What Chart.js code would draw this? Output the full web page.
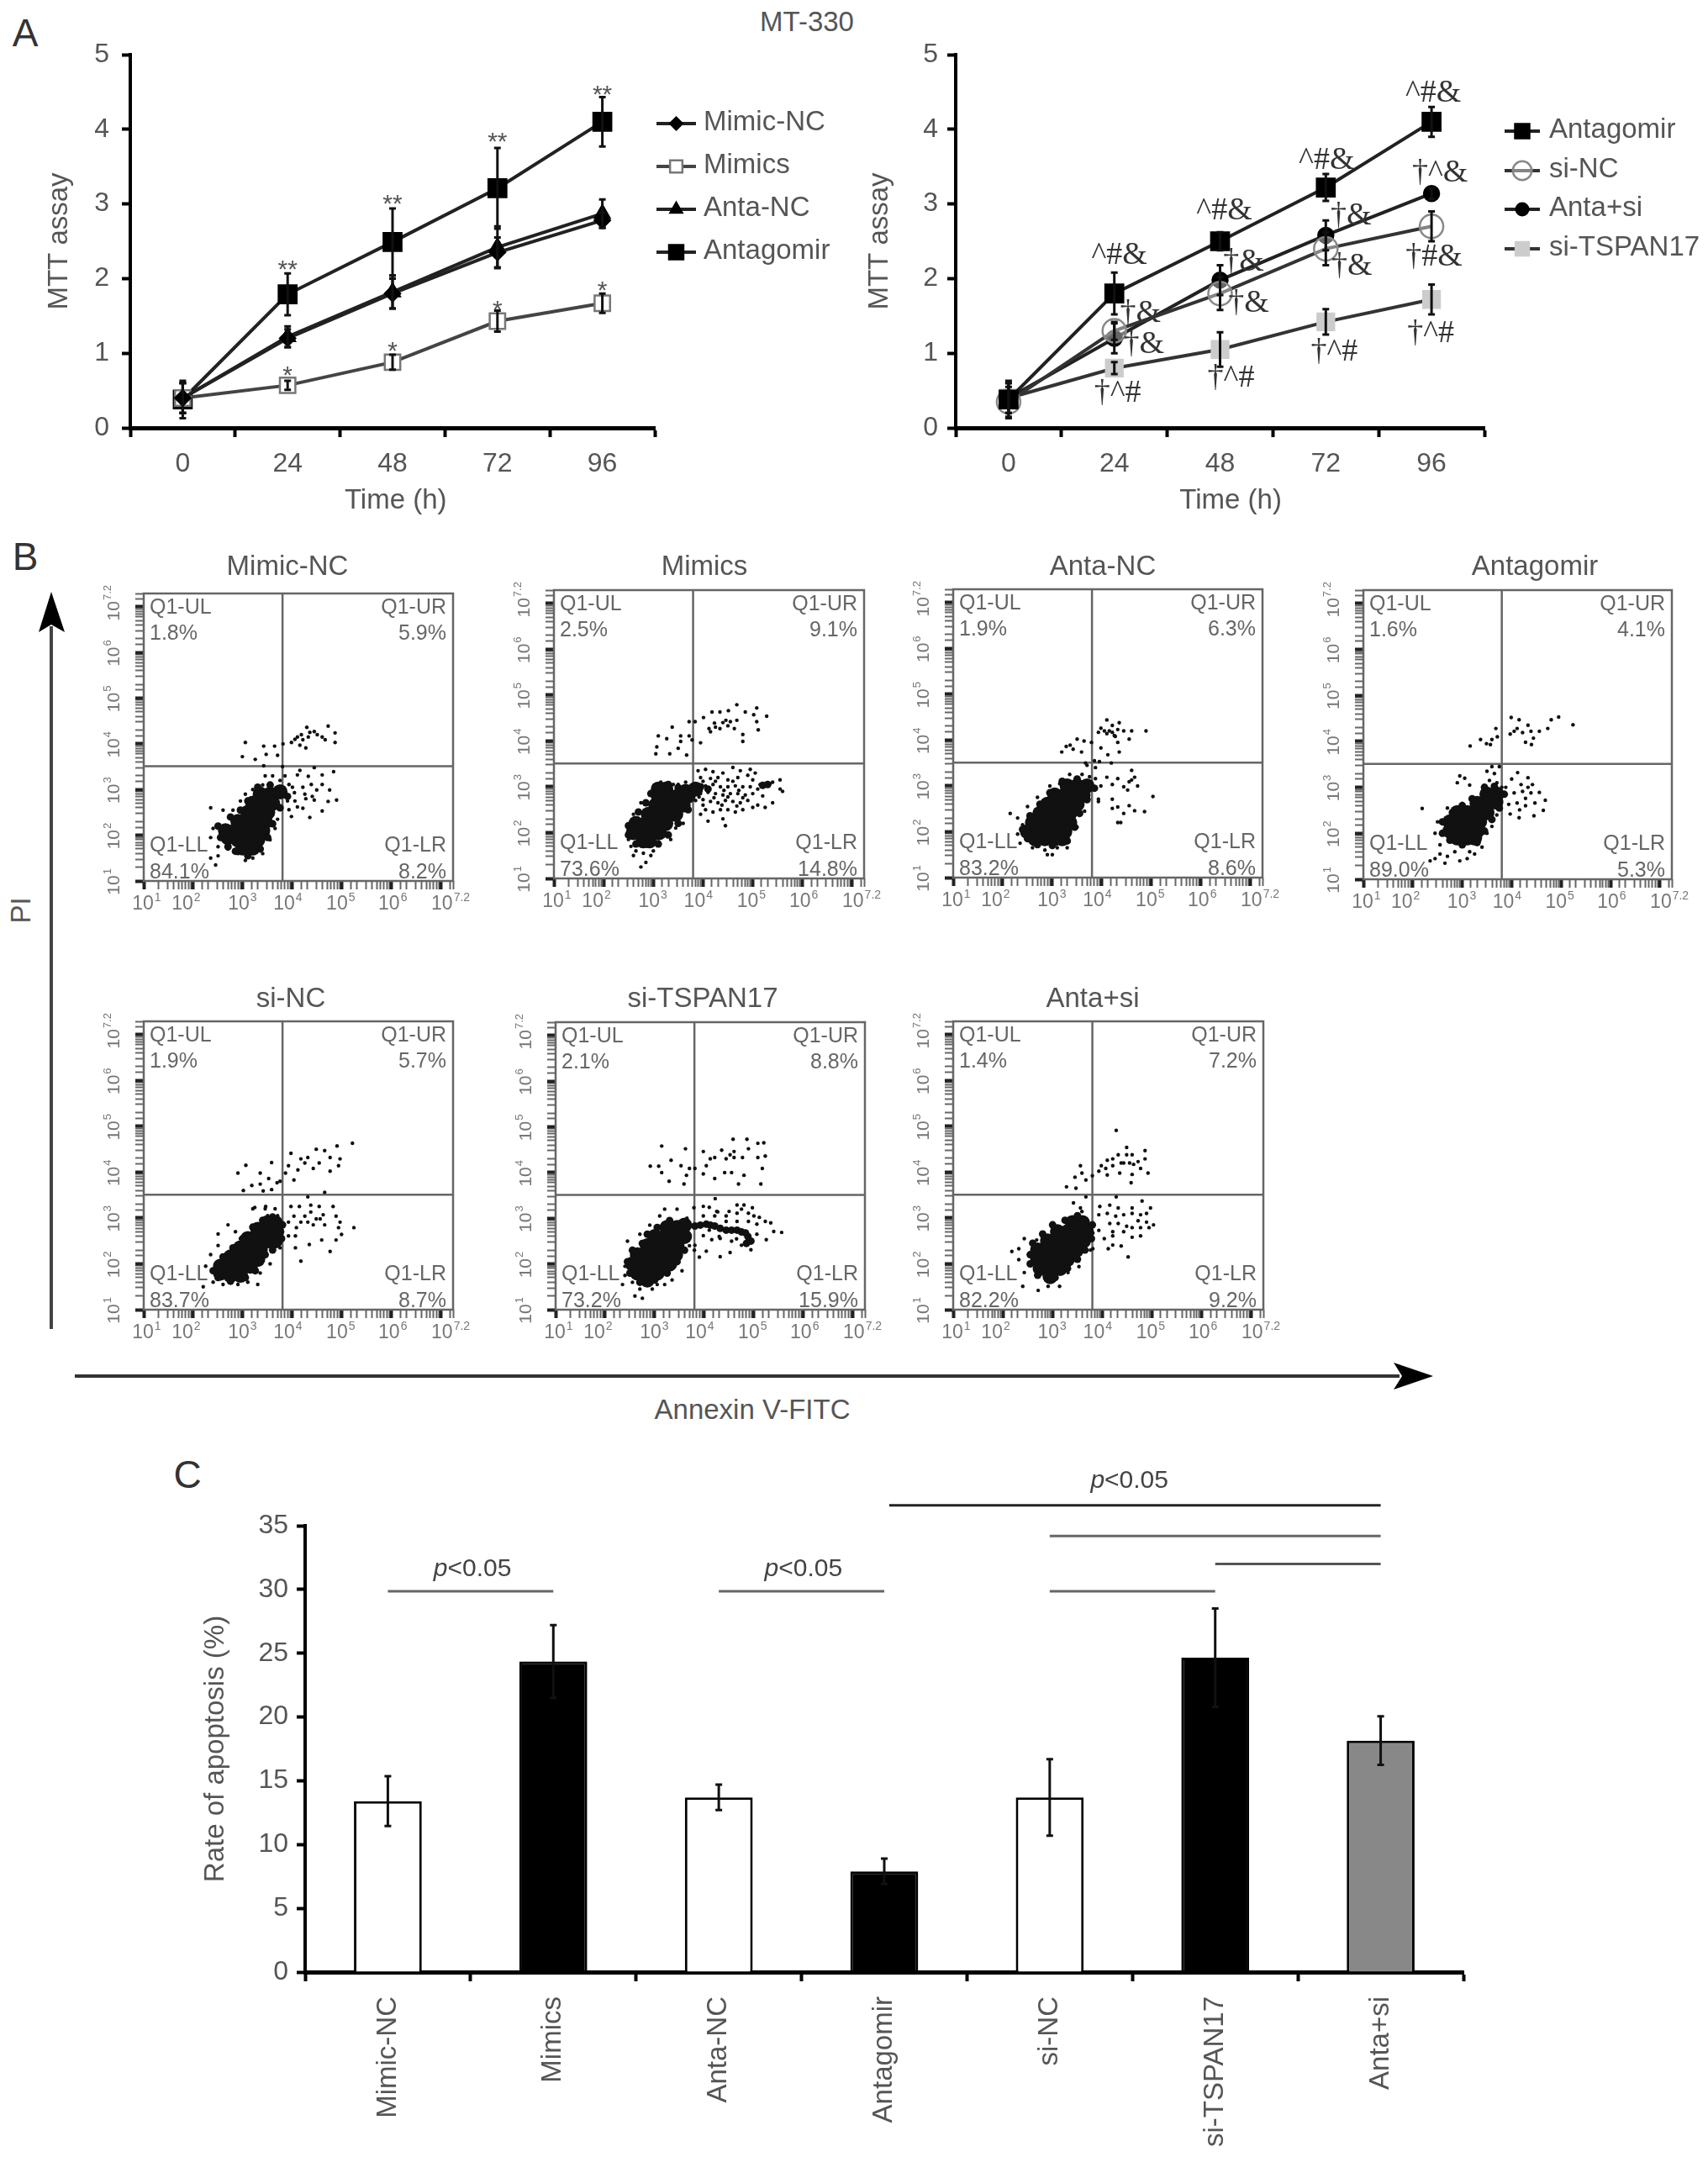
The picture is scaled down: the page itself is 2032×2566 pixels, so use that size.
<!DOCTYPE html>
<html>
<head>
<meta charset="utf-8">
<title>MT-330</title>
<script src="https://cdn.jsdelivr.net/npm/chart.js@4/dist/chart.umd.js"></script>
<style>
	html, body { margin: 0; background: #fff; }
	#page { position: relative; width: 2032px; height: 2566px; overflow: hidden; font-family: "Liberation Sans", sans-serif; }
	canvas { position: absolute; }
	svg { position: absolute; left: 0; top: 0; }
	.label { position: absolute; transform: translate(-50%, -50%); white-space: nowrap; color: #555; font-size: 33px; }
	.letter { color: #333; font-size: 46px; }
</style>
</head>
<body>
<div id="page">
	<svg width="2032" height="2566">
		<line x1="61" y1="1581" x2="61" y2="745" stroke="#444" stroke-width="4"/>
		<polygon points="61,704 46,752 61,743 77,752" fill="#000"/>
		<line x1="89" y1="1637" x2="1665" y2="1637" stroke="#333" stroke-width="4"/>
		<polygon points="1705,1637 1658,1621 1668,1637 1658,1653" fill="#000"/>
	</svg>
	<div class="label letter" style="left:30px;top:39px">A</div>
	<div class="label" style="left:960px;top:26px">MT-330</div>
	<div class="label letter" style="left:30px;top:662px">B</div>
	<div class="label" style="left:25px;top:1083px;transform:translate(-50%,-50%) rotate(-90deg)">PI</div>
	<div class="label" style="left:895px;top:1677px">Annexin V-FITC</div>
	<div class="label letter" style="left:223px;top:1754px">C</div>
</div>
<script>
// panel A
const hours = ["0", "24", "48", "72", "96"];

const mimicNcMtt = [0.4, 1.2, 1.8, 2.35, 2.78];
const mimicNcMttErr = [0.2, 0.12, 0.2, 0.2, 0.1];
const mimicsMtt = [0.4, 0.57, 0.88, 1.43, 1.67];
const mimicsMttErr = [0.2, 0.06, 0.1, 0.14, 0.13];
const antaNcMtt = [0.4, 1.22, 1.82, 2.42, 2.87];
const antaNcMttErr = [0.2, 0.14, 0.22, 0.28, 0.19];
const antagomirMtt = [0.38, 1.79, 2.49, 3.21, 4.1];
const antagomirMttErr = [0.25, 0.28, 0.45, 0.54, 0.33];

const antagomirMtt2 = [0.38, 1.8, 2.5, 3.22, 4.1];
const antagomirMtt2Err = [0.25, 0.28, 0.12, 0.18, 0.2];
const siNcMtt = [0.35, 1.3, 1.8, 2.4, 2.7];
const siNcMttErr = [0.2, 0.12, 0.22, 0.22, 0.2];
const antaSiMtt = [0.4, 1.2, 1.98, 2.58, 3.14];
const antaSiMttErr = [0.2, 0.2, 0.2, 0.2, 0.07];
const siTspanMtt = [0.4, 0.8, 1.05, 1.42, 1.72];
const siTspanMttErr = [0.2, 0.08, 0.23, 0.17, 0.2];

// text, category, value, x nudge
const starMarks = [
	["**", 1, 2.19, 0], ["**", 2, 3.07, 0], ["**", 3, 3.9, 0], ["**", 4, 4.53, 0],
	["*", 1, 0.77, 0], ["*", 2, 1.1, 0], ["*", 3, 1.65, 0], ["*", 4, 1.91, 0]
];
const symbolMarks = [
	["^#&", 1, 2.31, 6], ["^#&", 2, 2.91, 5], ["^#&", 3, 3.58, 1], ["^#&", 4, 4.48, 2],
	["†^&", 4, 3.41, 10], ["†#&", 4, 2.29, 3],
	["†&", 1, 1.53, 31], ["†&", 2, 2.22, 28], ["†&", 3, 2.84, 30],
	["†&", 1, 1.12, 35], ["†&", 2, 1.67, 34], ["†&", 3, 2.16, 31],
	["†^#", 1, 0.46, 4], ["†^#", 2, 0.66, 13], ["†^#", 3, 1.01, 10], ["†^#", 4, 1.26, -1]
];

// panel B, all points as log10 of the axis value
const gateX = 3.8;
const gateY = 3.51;
const decadeLabels = ["1", "2", "3", "4", "5", "6", "7.2"];
const quadrantNames = ["Q1-UL", "Q1-UR", "Q1-LL", "Q1-LR"];

const mimicNcDense = [[3.35,2.9],[3.55,2.9],[3.75,2.95],[3.2,2.7],[3.4,2.7],[3.6,2.7],[3.1,2.5],[3.3,2.5],[3.5,2.5],[2.9,2.3],[3.1,2.3],[3.3,2.3],[3.45,2.3],[2.65,2.1],[2.85,2.1],[3.05,2.1],[3.25,2.1],[3.4,2.1],[2.7,1.95],[2.9,1.9],[3.1,1.9],[3.3,1.9],[3.0,1.72],[3.2,1.72]];
const mimicNcMid = [[2.5,2.2],[2.55,1.95],[2.7,1.75],[2.85,1.65],[3.1,1.55],[3.35,1.7],[3.5,1.95],[3.6,2.25],[3.75,2.6],[3.9,2.85],[2.75,2.4],[2.95,2.55],[3.1,2.75],[3.3,3.05],[3.55,3.1]];
const mimicNcSparse = [[3.05,4.03],[2.99,3.72],[3.25,3.66],[3.42,3.95],[3.47,3.77],[3.64,3.95],[3.7,3.75],[3.81,4.0],[3.98,4.03],[4.1,4.15],[4.21,4.09],[4.32,4.15],[4.29,4.36],[4.44,4.27],[4.6,4.15],[4.72,4.39],[4.86,4.24],[4.66,4.09],[4.27,3.91],[4.15,3.97],[3.42,3.52],[4.86,4.03],[4.05,4.1],[4.18,4.2],[4.5,4.2],[4.35,4.25],
	[4.1,3.32],[4.15,3.42],[4.44,3.48],[4.83,3.39],[4.6,3.32],[4.32,3.29],[3.93,3.11],[4.04,2.93],[4.21,3.05],[4.38,3.11],[4.49,2.99],[4.27,2.8],[4.44,2.77],[4.1,2.62],[4.21,2.59],[3.93,2.56],[3.98,2.41],[4.35,2.39],[4.6,2.53],[4.72,2.74],[4.89,2.77],[4.75,2.99],[4.6,3.11],[4.0,3.05],[4.25,2.9],[4.4,2.85],[4.05,2.75],[3.9,2.75],
	[2.35,2.6],[2.4,2.15],[2.35,1.95],[2.5,1.75],[2.7,1.7],[2.9,1.6],[3.05,1.45],[3.2,1.5],[3.4,1.6],[3.55,1.9],[2.5,1.55],[2.35,1.5],[2.45,1.35],[2.8,2.55],[2.6,2.55],[2.95,2.75],[3.05,2.9],[3.2,3.0],[3.4,3.1],[3.6,3.3],[3.45,3.3],[3.75,3.2],[3.85,3.3],[3.8,3.5],[3.7,2.35],[3.65,2.15],[3.5,2.0]];

const mimicsDense = [[3.1,2.95],[3.25,2.95],[3.65,2.9],[3.85,2.95],[3.1,2.8],[3.3,2.8],[3.5,2.8],[3.7,2.8],[3.05,2.6],[3.25,2.6],[3.45,2.6],[3.6,2.6],[2.9,2.4],[3.1,2.4],[3.3,2.4],[3.45,2.4],[2.65,2.2],[2.85,2.2],[3.05,2.2],[3.25,2.2],[2.6,2.0],[2.8,2.0],[3.0,2.0],[3.12,2.0],[2.8,1.82],[2.92,1.82]];
const mimicsMid = [[3.95,3.0],[4.1,2.95],[5.2,3.03],[5.3,3.05],[2.5,2.15],[2.5,1.95],[2.65,1.75],[3.1,1.75],[3.3,1.95],[3.5,2.2],[3.7,2.5],[2.7,2.45],[2.85,2.65],[2.95,2.85],[3.3,3.05],[3.5,2.98]];
const mimicsSparse = [[3.1,4.11],[3.07,3.87],[3.05,3.72],[3.27,4.05],[3.38,4.3],[3.55,4.11],[3.5,3.84],[3.33,3.72],[3.67,3.69],[3.72,4.42],[3.78,4.02],[3.95,3.96],[4.01,4.51],[4.12,4.27],[4.23,4.39],[4.34,4.27],[4.46,4.45],[4.68,4.79],[4.68,4.45],[4.51,4.66],[4.34,4.63],[4.85,4.63],[5.02,4.57],[5.08,4.72],[5.28,4.54],[5.08,4.42],[5.11,4.24],[4.8,3.99],[4.8,4.14],[4.63,4.27],[4.18,4.63],[3.84,4.42],[3.72,4.11],[3.55,3.99],[4.4,4.4],[4.55,4.42],[4.25,4.3],[4.15,4.2],[4.5,4.33],
	[3.9,3.35],[4.05,3.38],[4.2,3.33],[4.4,3.3],[4.6,3.42],[4.75,3.35],[4.95,3.38],[5.05,3.3],[3.95,3.2],[4.15,3.18],[4.3,3.2],[4.5,3.15],[4.7,3.2],[4.9,3.25],[5.0,3.15],[5.15,3.05],[5.35,3.07],[5.4,3.1],[5.55,3.15],[5.6,2.9],[5.55,2.95],
	[3.9,3.05],[4.05,3.02],[4.2,3.05],[4.35,3.0],[4.5,3.0],[4.65,3.02],[4.8,3.0],[4.95,3.0],[5.1,2.95],[3.95,2.85],[4.1,2.88],[4.25,2.85],[4.4,2.82],[4.55,2.85],[4.7,2.85],[4.85,2.82],[5.0,2.85],[5.2,2.8],[3.85,2.7],[4.0,2.72],[4.15,2.68],[4.3,2.65],[4.45,2.7],[4.6,2.68],[4.75,2.65],[4.9,2.7],[5.1,2.6],[5.4,2.65],[5.25,2.55],[4.05,2.5],[4.2,2.45],[4.35,2.5],[4.5,2.5],[4.65,2.45],[4.8,2.5],[5.0,2.55],[3.95,2.4],[4.1,2.25],[4.4,2.3],[4.45,2.15],
	[4.0,3.12],[4.25,3.12],[4.6,3.12],[4.12,2.95],[4.42,2.92],[4.72,2.92],[3.92,2.78],[4.22,2.76],[4.5,2.78],[4.8,2.76],[4.0,2.6],[4.38,2.6],[4.68,2.58],
	[2.5,1.85],[2.55,1.7],[2.6,1.5],[2.65,1.6],[2.8,1.55],[2.95,1.5],[3.0,1.6],[2.85,1.35],[2.75,1.25],[3.1,1.8],[3.35,1.85],[3.45,2.1],[3.6,2.2],[2.6,2.4],[2.75,2.65],[2.95,2.85],[3.15,3.1],[3.4,3.05],[3.5,3.05],[3.65,3.1]];

const antaNcDense = [[3.3,3.0],[3.5,3.0],[3.7,3.0],[3.05,2.8],[3.25,2.8],[3.45,2.8],[3.62,2.8],[2.9,2.6],[3.1,2.6],[3.3,2.6],[3.5,2.6],[2.75,2.4],[2.95,2.4],[3.15,2.4],[3.35,2.4],[2.6,2.2],[2.8,2.2],[3.0,2.2],[3.2,2.2],[3.35,2.2],[2.5,2.0],[2.7,2.0],[2.9,2.0],[3.1,2.0],[3.25,2.0],[2.65,1.85],[2.85,1.85],[3.05,1.85],[3.2,1.85]];
const antaNcMid = [[2.4,2.05],[2.5,1.85],[2.7,1.72],[3.0,1.7],[3.3,1.8],[3.45,2.1],[3.55,2.4],[3.7,2.7],[3.85,2.95],[2.55,2.35],[2.75,2.6],[2.95,2.85],[3.2,3.1],[3.5,3.15]];
const antaNcSparse = [[3.19,3.74],[3.36,3.89],[3.5,4.02],[3.64,3.98],[3.79,3.95],[3.59,3.74],[3.93,4.17],[3.98,4.26],[4.1,4.44],[4.21,4.32],[4.35,4.38],[4.44,4.2],[4.6,4.2],[4.89,4.2],[4.1,4.14],[4.27,4.08],[4.32,3.95],[4.12,3.68],[4.35,3.74],[4.55,4.02],[4.21,4.17],[4.32,4.23],[3.98,3.83],[3.42,3.8],[3.28,3.86],[4.15,4.2],[4.25,4.1],[4.05,4.2],
	[3.67,3.5],[3.87,3.4],[3.95,3.53],[4.19,3.5],[3.87,3.16],[4.1,3.19],[4.32,3.16],[4.6,3.34],[4.66,3.19],[4.55,3.09],[4.72,3.0],[4.44,2.98],[4.21,3.03],[3.98,3.0],[5.03,2.77],[3.93,2.66],[4.21,2.71],[4.32,2.54],[4.55,2.57],[4.21,2.51],[4.44,2.4],[4.66,2.46],[4.86,2.44],[4.32,2.2],[3.93,2.71],[4.6,3.13],[4.52,2.91],[4.38,2.2],
	[2.15,2.4],[2.3,2.3],[2.4,2.15],[2.3,1.95],[2.35,1.75],[2.6,1.65],[2.85,1.6],[3.1,1.65],[2.9,1.5],[3.0,1.5],[3.3,1.65],[3.5,2.1],[3.65,2.45],[2.5,2.55],[2.7,2.75],[2.95,3.0],[3.15,3.05],[3.35,3.25],[3.6,3.25],[3.7,3.45],[3.75,3.2],[3.85,3.55]];

const antagomirDense = [[3.5,2.85],[3.7,2.85],[3.3,2.65],[3.5,2.65],[3.68,2.68],[2.9,2.45],[3.1,2.45],[3.3,2.45],[3.5,2.45],[2.75,2.25],[2.95,2.25],[3.15,2.25],[3.35,2.25],[2.75,2.05],[2.95,2.05],[3.15,2.05],[3.3,2.05],[2.9,1.9],[3.1,1.9],[3.25,1.9]];
const antagomirMid = [[2.6,2.0],[2.6,2.25],[2.75,1.85],[3.0,1.75],[3.3,1.8],[3.45,2.05],[3.6,2.3],[3.75,2.55],[3.85,2.85],[2.8,2.45],[3.0,2.6],[3.2,2.75],[3.45,3.0],[3.65,3.02]];
const antagomirSparse = [[3.16,3.9],[3.37,4.04],[3.49,3.95],[3.6,4.04],[3.71,4.1],[3.68,4.28],[3.97,4.16],[3.99,4.52],[4.15,4.47],[4.11,4.28],[4.22,4.19],[4.33,4.35],[4.39,4.22],[4.56,4.22],[4.73,4.28],[4.8,4.47],[4.95,4.53],[5.24,4.36],[4.28,3.98],[4.4,3.93],[4.44,4.07],[4.05,4.22],[3.57,3.93],
	[3.88,3.0],[4.0,3.18],[4.12,3.32],[4.33,3.21],[4.19,3.06],[4.33,3.0],[4.42,3.06],[3.88,2.85],[4.05,2.88],[4.22,2.91],[4.39,2.88],[4.56,2.89],[3.94,2.63],[4.11,2.66],[4.28,2.76],[4.47,2.66],[4.68,2.72],[3.97,2.42],[4.15,2.34],[4.16,2.51],[4.45,2.38],[4.64,2.5],[4.28,2.6],
	[2.45,2.0],[2.5,2.25],[2.55,1.75],[2.7,2.55],[2.85,2.55],[3.0,2.65],[3.15,1.6],[3.4,1.7],[3.5,2.0],[3.6,2.15],[3.7,2.4],[2.55,1.55],[2.7,1.5],[2.85,1.6],[2.95,1.4],[2.65,1.35],[2.45,1.45],[2.35,1.4],[3.1,1.45],[3.25,1.55],[2.19,2.54],[2.9,3.1],[3.05,3.2],[3.15,3.05],[2.95,3.25],[3.5,3.35],[3.6,3.45],[3.65,3.3],[3.75,3.45],[3.55,3.15],[3.7,3.1],[3.8,3.0]];

const siNcDense = [[3.5,2.9],[3.65,2.9],[3.3,2.75],[3.5,2.75],[3.68,2.7],[3.1,2.55],[3.3,2.55],[3.5,2.5],[3.65,2.5],[2.95,2.35],[3.15,2.35],[3.35,2.3],[2.75,2.15],[2.95,2.15],[3.15,2.1],[3.3,2.1],[2.55,1.95],[2.75,1.95],[2.95,1.95],[3.15,1.95],[2.55,1.8],[2.75,1.75],[2.95,1.75]];
const siNcMid = [[2.4,1.85],[2.5,1.7],[2.75,1.62],[3.05,1.7],[3.25,1.85],[3.45,2.2],[3.6,2.3],[3.78,2.55],[3.8,2.85],[2.6,2.15],[2.8,2.35],[3.0,2.55],[3.2,2.8],[3.4,2.95],[3.6,3.02]];
const siNcSparse = [[2.9,3.98],[3.06,4.15],[3.35,3.98],[3.58,4.21],[3.52,3.86],[3.35,3.74],[3.18,3.71],[3.01,3.6],[3.41,3.59],[3.58,3.62],[3.75,3.8],[3.86,3.98],[3.97,4.41],[4.03,3.83],[4.11,4.05],[4.17,4.29],[4.31,4.32],[4.42,4.08],[4.48,4.5],[4.54,4.2],[4.65,4.47],[4.76,4.32],[4.9,4.57],[4.96,4.29],[5.21,4.63],[4.93,4.14],[4.76,4.02],[4.25,4.2],[3.92,4.14],[3.69,3.77],
	[4.31,3.46],[4.65,3.56],[3.24,3.23],[3.46,3.25],[3.97,3.25],[4.14,3.25],[4.37,3.28],[4.54,3.25],[4.82,3.25],[4.03,3.04],[4.17,2.91],[4.31,2.91],[4.48,2.98],[4.62,3.07],[4.88,3.04],[4.96,2.91],[3.92,2.91],[4.08,2.79],[4.42,2.85],[4.65,2.85],[4.93,2.79],[5.24,2.79],[4.06,2.61],[3.92,2.61],[4.59,2.52],[4.88,2.52],[4.06,2.35],[4.34,2.42],[4.76,2.27],[4.17,2.06],[4.99,2.64],[4.25,3.04],[4.37,3.13],[4.56,2.98],
	[2.25,1.95],[2.35,2.2],[2.5,2.4],[2.5,2.65],[2.7,2.85],[2.85,2.7],[2.95,2.55],[2.4,1.6],[2.6,1.55],[2.9,1.55],[3.1,1.6],[3.3,1.55],[3.35,1.8],[3.55,2.0],[2.2,1.5],[3.2,3.2],[3.45,3.2],[3.65,3.2],[3.7,3.05],[3.5,3.05],[3.75,2.35],[3.8,2.7]];

const siTspanDense = [[3.25,2.8],[3.45,2.8],[3.6,2.85],[3.0,2.6],[3.2,2.6],[3.4,2.6],[3.6,2.6],[2.85,2.4],[3.05,2.4],[3.25,2.4],[3.45,2.4],[2.65,2.2],[2.85,2.2],[3.05,2.2],[3.25,2.2],[3.42,2.2],[2.55,2.0],[2.75,2.0],[2.95,2.0],[3.15,2.0],[3.3,2.0],[2.65,1.8],[2.85,1.8],[3.05,1.8],[2.85,1.65]];
const siTspanMid = [[3.81,2.83],[3.92,2.85],[4.04,2.87],[4.12,2.85],[4.21,2.83],[4.32,2.78],[4.44,2.74],[4.55,2.74],[4.66,2.74],[4.75,2.7],[4.83,2.68],[4.88,2.6],[4.85,2.45],[4.94,2.5],[2.45,2.05],[2.5,1.8],[2.7,1.6],[3.0,1.65],[3.25,1.8],[3.45,2.05],[3.6,2.3],[2.55,2.3],[2.75,2.45],[2.85,2.65],[3.05,2.8],[3.3,2.95]];
const siTspanSparse = [[2.91,4.14],[3.08,4.14],[3.14,4.58],[3.14,4.0],[3.29,3.81],[3.33,4.27],[3.59,3.75],[3.62,4.52],[3.53,4.15],[3.64,3.94],[3.7,4.09],[3.81,4.09],[3.98,4.46],[3.98,3.97],[4.04,4.15],[4.21,3.87],[4.12,4.3],[4.21,4.33],[4.35,4.49],[4.41,4.0],[4.55,4.0],[4.58,4.73],[4.6,4.46],[4.6,4.33],[4.69,3.75],[4.8,3.94],[4.86,4.73],[4.89,4.52],[4.77,4.33],[5.08,4.64],[5.2,4.65],[5.08,4.33],[5.23,4.36],[5.17,4.09],[5.14,3.75],[4.52,4.39],[4.44,4.3],
	[4.22,3.43],[3.98,3.26],[4.1,3.24],[3.79,3.23],[4.27,3.14],[4.66,3.29],[4.8,3.29],[4.97,3.23],[3.98,3.05],[4.21,3.05],[4.44,3.05],[4.66,3.11],[4.89,3.11],[5.11,3.02],[5.23,2.93],[5.34,2.9],[5.56,2.69],[5.4,2.71],[5.25,2.53],[3.98,2.62],[4.15,2.53],[4.32,2.56],[4.55,2.5],[4.75,2.41],[4.94,2.31],[4.32,2.16],[4.52,2.25],[4.04,2.28],[3.81,2.41],[5.06,2.87],[4.66,2.93],[4.44,2.93],[4.89,2.93],[5.06,2.65],[4.1,2.74],[4.25,3.15],[4.5,3.15],[4.75,3.2],[5.0,3.05],[4.3,2.6],[4.65,2.55],
	[2.45,2.5],[2.55,2.2],[2.4,1.95],[2.4,1.75],[2.55,1.6],[2.7,1.45],[2.6,1.3],[2.75,1.25],[2.95,1.45],[3.05,1.55],[3.2,1.55],[3.35,1.65],[2.35,1.55],[2.7,2.65],[2.9,2.85],[3.1,3.05],[3.2,3.2],[3.45,3.2],[3.55,1.85],[3.7,2.4],[3.8,2.3],[3.9,2.15],[3.65,3.0]];

const antaSiDense = [[3.4,2.9],[3.6,2.9],[3.1,2.7],[3.3,2.7],[3.5,2.7],[3.68,2.7],[2.9,2.5],[3.1,2.5],[3.3,2.5],[3.5,2.5],[3.62,2.5],[2.7,2.3],[2.9,2.3],[3.1,2.3],[3.3,2.3],[3.48,2.3],[2.7,2.1],[2.9,2.1],[3.1,2.1],[3.3,2.1],[2.75,1.9],[2.95,1.9],[3.15,1.9],[2.95,1.72]];
const antaSiMid = [[2.55,2.2],[2.55,2.0],[2.7,1.75],[3.05,1.7],[3.3,1.9],[3.5,2.1],[3.65,2.3],[3.78,2.55],[3.8,2.85],[2.6,2.45],[2.8,2.65],[3.0,2.85],[3.25,2.95],[3.5,3.05]];
const antaSiSparse = [[3.28,3.68],[3.47,3.65],[3.56,4.14],[3.45,3.89],[3.59,3.98],[3.67,3.83],[3.8,3.92],[3.67,3.46],[3.42,3.33],[3.56,3.22],
	[4.28,4.91],[4.49,4.54],[4.86,4.47],[4.86,4.29],[4.92,3.98],[4.58,3.77],[3.93,4.02],[3.98,4.14],[4.1,4.26],[4.21,4.29],[4.32,4.38],[4.43,4.2],[4.55,4.2],[4.63,4.17],[4.6,4.38],[4.72,4.23],[4.77,4.08],[4.35,3.98],[4.1,3.94],[4.6,3.95],[4.21,4.14],[4.38,4.2],[4.07,4.08],[4.49,4.38],
	[4.28,3.46],[3.95,3.25],[4.15,3.28],[4.32,3.22],[4.6,3.22],[4.8,3.37],[4.97,3.22],[3.93,3.07],[4.1,3.1],[4.27,3.04],[4.43,3.07],[4.6,3.1],[4.77,3.07],[4.89,2.91],[5.03,2.85],[4.94,2.79],[4.15,2.88],[4.32,2.88],[4.49,2.82],[4.6,2.79],[4.77,2.79],[3.93,2.73],[4.21,2.7],[4.43,2.7],[4.6,2.58],[4.77,2.61],[4.04,2.55],[4.21,2.61],[4.12,2.33],[4.21,2.41],[4.38,2.39],[4.52,2.15],[3.81,2.33],[4.89,3.1],[4.72,2.94],
	[2.18,2.27],[2.32,2.33],[2.43,2.55],[2.32,2.09],[2.43,1.81],[2.4,1.51],[2.71,1.42],[2.91,1.51],[3.14,1.51],[3.02,1.63],[3.31,1.81],[3.53,1.94],[3.76,2.3],[3.81,2.67],[3.25,2.95],[3.47,3.05],[3.59,3.14],[2.68,2.52]];

// panel C
const groups = ["Mimic-NC", "Mimics", "Anta-NC", "Antagomir", "si-NC", "si-TSPAN17", "Anta+si"];
const apoptosisRate = [13.4, 24.35, 13.7, 7.9, 13.7, 24.65, 18.15];
const apoptosisErr = [1.95, 2.85, 1.0, 1.0, 3.0, 3.85, 1.9];
const barColors = ["#fff", "#000", "#fff", "#000", "#fff", "#000", "#888"];
// from bar, to bar, height, colour
const sigLines = [[0, 1, 29.86, "#666"], [2, 3, 29.86, "#666"], [4, 5, 29.86, "#666"], [5, 6, 32, "#555"], [4, 6, 34.2, "#666"], [3.03, 6, 36.6, "#222"]];
const sigLabels = [[0.5, 31.6], [2.5, 31.6], [4.47, 38.5]];

Chart.defaults.font.family = "'Liberation Sans', sans-serif";
Chart.defaults.animation = false;
Chart.defaults.responsive = false;
Chart.defaults.devicePixelRatio = 1;
Chart.defaults.plugins.legend.display = false;
Chart.defaults.plugins.tooltip.enabled = false;

const textGrey = "#555";
const page = document.getElementById("page");

const addCanvas = (left, top, width, height) => {
	const canvas = document.createElement("canvas");
	canvas.width = width;
	canvas.height = height;
	canvas.style.left = `${left}px`;
	canvas.style.top = `${top}px`;
	page.appendChild(canvas);
	return canvas.getContext("2d");
};

const errorBars = {
	id: "errorBars",
	afterDatasetsDraw(chart) {
		const { ctx, scales } = chart;
		chart.data.datasets.forEach((ds, d) => {
			if (!ds.errorBars) return;
			const points = chart.getDatasetMeta(d).data;
			ctx.save();
			ctx.strokeStyle = "#111";
			ctx.lineWidth = 3;
			ds.errorBars.forEach((err, i) => {
				const x = points[i].x;
				const hi = scales.y.getPixelForValue(ds.data[i] + err);
				const lo = scales.y.getPixelForValue(ds.data[i] - err);
				ctx.beginPath();
				ctx.moveTo(x, hi);
				ctx.lineTo(x, lo);
				ctx.moveTo(x - 4, hi);
				ctx.lineTo(x + 4, hi);
				ctx.moveTo(x - 4, lo);
				ctx.lineTo(x + 4, lo);
				ctx.stroke();
			});
			ctx.restore();
		});
	}
};

const textMarks = (items, font, color, shift) => ({
	id: "textMarks",
	afterDraw(chart) {
		const { ctx, scales } = chart;
		ctx.save();
		ctx.font = font;
		ctx.fillStyle = color;
		ctx.textAlign = "center";
		ctx.textBaseline = "middle";
		items.forEach(([text, cat, value, dx]) => {
			ctx.fillText(text, scales.x.getPixelForValue(cat) + dx, scales.y.getPixelForValue(value) + shift);
		});
		ctx.restore();
	}
});

const lineLegend = (rowsY, x0, x1, textX) => ({
	id: "lineLegend",
	afterDraw(chart) {
		const { ctx } = chart;
		chart.data.datasets.forEach((ds, i) => {
			const y = rowsY[i];
			ctx.save();
			ctx.strokeStyle = ds.borderColor;
			ctx.lineWidth = ds.borderWidth;
			ctx.beginPath();
			ctx.moveTo(x0, y);
			ctx.lineTo(x1, y);
			ctx.stroke();
			ctx.fillStyle = ds.pointBackgroundColor;
			ctx.strokeStyle = ds.pointBorderColor;
			ctx.lineWidth = ds.pointBorderWidth;
			Chart.helpers.drawPoint(ctx, { pointStyle: ds.pointStyle, radius: ds.pointRadius * 0.8, rotation: 0, borderWidth: ds.pointBorderWidth }, (x0 + x1) / 2, y);
			ctx.fillStyle = textGrey;
			ctx.font = "33px 'Liberation Sans'";
			ctx.textBaseline = "middle";
			ctx.textAlign = "left";
			ctx.fillText(ds.label, textX, y - 1);
			ctx.restore();
		});
	}
});

const series = (label, data, errs, pointStyle, pointRadius, fill, stroke, lineColor) => ({
	label, data, errorBars: errs, pointStyle, pointRadius,
	pointBackgroundColor: fill,
	pointBorderColor: stroke,
	pointBorderWidth: 2.5,
	borderColor: lineColor,
	borderWidth: 4,
	tension: 0
});

const drawMttChart = (ctx, datasets, frame, plugins) => {
	new Chart(ctx, {
		type: "line",
		data: { labels: hours, datasets },
		options: {
			layout: { autoPadding: false, padding: { left: frame.left, right: frame.right, top: 65, bottom: 0 } },
			scales: {
				x: {
					offset: true,
					afterFit: scale => { scale.height = 106; },
					grid: { offset: true, drawOnChartArea: false, color: "#000", tickColor: "#000", tickWidth: 4, tickLength: 11 },
					border: { color: "#000", width: 5 },
					ticks: { color: textGrey, font: { size: 32 }, padding: 13 }
				},
				y: {
					min: 0,
					max: 5,
					afterFit: scale => { scale.width = frame.yWidth; },
					grid: { drawOnChartArea: false, color: "#000", tickColor: "#000", tickWidth: 4, tickLength: 10 },
					border: { color: "#000", width: 4 },
					ticks: { stepSize: 1, color: textGrey, font: { size: 32 }, padding: frame.tickPad },
					title: { display: true, text: "MTT assay", color: textGrey, font: { size: 33 }, padding: 0 }
				}
			}
		},
		plugins: [errorBars, ...plugins]
	});
};

drawMttChart(addCanvas(0, 0, 1040, 615), [
	series("Mimic-NC", mimicNcMtt, mimicNcMttErr, "rectRot", 9, "#000", "#000", "#222"),
	series("Mimics", mimicsMtt, mimicsMttErr, "rect", 13, "#fff", "#777", "#444"),
	series("Anta-NC", antaNcMtt, antaNcMttErr, "triangle", 10, "#000", "#000", "#222"),
	series("Antagomir", antagomirMtt, antagomirMttErr, "rect", 15, "#000", "#000", "#222")
], { left: 51, right: 261, yWidth: 104, tickPad: 15 }, [
	textMarks(starMarks, "30px 'Liberation Sans'", "#555", 7),
	textMarks([["Time (h)", 2.03, -0.98, 0]], "33px 'Liberation Sans'", textGrey, 0),
	lineLegend([147, 198, 249, 300], 781, 828, 837)
]);

drawMttChart(addCanvas(1000, 0, 1032, 615), [
	series("Antagomir", antagomirMtt2, antagomirMtt2Err, "rect", 15, "#000", "#000", "#222"),
	series("si-NC", siNcMtt, siNcMttErr, "circle", 14, "rgba(255,255,255,0.4)", "#888", "#333"),
	series("Anta+si", antaSiMtt, antaSiMttErr, "circle", 9, "#000", "#000", "#222"),
	series("si-TSPAN17", siTspanMtt, siTspanMttErr, "rect", 14, "#ccc", "#ccc", "#333")
], { left: 27, right: 266, yWidth: 110, tickPad: 11 }, [
	textMarks(symbolMarks, "38px 'Liberation Serif'", "#333", 0),
	textMarks([["Time (h)", 2.1, -0.98, 0]], "33px 'Liberation Sans'", textGrey, 0),
	lineLegend([156, 203, 249, 296], 790, 832, 843)
]);

const xLabelNudge = [-1, -13, -5, -10, -6, -3, 1];

const drawPower = (ctx, x, y, sup, size) => {
	ctx.save();
	ctx.translate(x, y);
	ctx.font = `${size}px 'Liberation Sans'`;
	ctx.textAlign = "center";
	ctx.textBaseline = "middle";
	ctx.fillText("10", 0, 0);
	const half = ctx.measureText("10").width / 2;
	ctx.font = `${Math.round(size * 0.62)}px 'Liberation Sans'`;
	ctx.textAlign = "left";
	ctx.fillText(sup, half + 1, -8);
	ctx.restore();
};

const flowFrame = (title, percents) => ({
	id: "flowFrame",
	beforeDatasetsDraw(chart) {
		const { ctx, chartArea: a, scales } = chart;
		const gx = scales.x.getPixelForValue(10 ** gateX);
		const gy = scales.y.getPixelForValue(10 ** gateY);
		ctx.save();
		ctx.strokeStyle = "#666";
		ctx.lineWidth = 2.5;
		ctx.beginPath();
		ctx.moveTo(gx, a.top);
		ctx.lineTo(gx, a.bottom);
		ctx.moveTo(a.left, gy);
		ctx.lineTo(a.right, gy);
		ctx.stroke();
		ctx.restore();
	},
	afterDraw(chart) {
		const { ctx, chartArea: a, scales } = chart;
		ctx.save();
		ctx.strokeStyle = "#666";
		ctx.lineWidth = 2.5;
		ctx.strokeRect(a.left, a.top, a.right - a.left, a.bottom - a.top);

		ctx.fillStyle = "#666";
		ctx.font = "25px 'Liberation Sans'";
		ctx.textBaseline = "middle";
		ctx.textAlign = "left";
		ctx.fillText(quadrantNames[0], a.left + 7, a.top + 17);
		ctx.fillText(percents[0], a.left + 7, a.top + 48);
		ctx.fillText(quadrantNames[2], a.left + 7, a.bottom - 42);
		ctx.fillText(percents[2], a.left + 7, a.bottom - 10);
		ctx.textAlign = "right";
		ctx.fillText(quadrantNames[1], a.right - 8, a.top + 17);
		ctx.fillText(percents[1], a.right - 8, a.top + 48);
		ctx.fillText(quadrantNames[3], a.right - 8, a.bottom - 42);
		ctx.fillText(percents[3], a.right - 8, a.bottom - 10);

		ctx.fillStyle = "#777";
		decadeLabels.forEach((sup, i) => {
			drawPower(ctx, scales.x.getPixelForValue(10 ** (i + 1)) + xLabelNudge[i], a.bottom + 28, sup, 23);
			ctx.save();
			ctx.translate(a.left - 35, scales.y.getPixelForValue(10 ** (i + 1)) + 5);
			ctx.rotate(-Math.PI / 2);
			drawPower(ctx, 0, 0, sup, 21);
			ctx.restore();
		});

		ctx.fillStyle = textGrey;
		ctx.font = "33px 'Liberation Sans'";
		ctx.textAlign = "center";
		ctx.fillText(title.text, title.x, title.y);
		ctx.restore();
	}
});

const logTicks = {
	grid: {
		drawOnChartArea: false,
		tickLength: 10,
		tickColor: c => (c.tick && c.tick.major ? "#222" : "#666"),
		tickWidth: c => (c.tick && c.tick.major ? 4 : 2)
	},
	border: { display: false },
	ticks: { display: false, autoSkip: false }
};

const toPoints = list => list.map(([x, y]) => ({ x: 10 ** x, y: 10 ** y }));

const flowDots = (data, pointRadius) => ({
	data: toPoints(data),
	pointRadius,
	pointBackgroundColor: "#111",
	pointBorderWidth: 0,
	showLine: false
});

const drawFlowPlot = (box, titleText, titleAt, percents, dense, mid, sparse) => {
	const width = box.right - box.left + 120;
	const height = box.bottom - box.top + 110;
	const ctx = addCanvas(box.left - 70, box.top - 50, width, height);
	new Chart(ctx, {
		type: "scatter",
		data: { datasets: [flowDots(sparse, 2.2), flowDots(mid, 4.5), flowDots(dense, 9)] },
		options: {
			layout: { autoPadding: false, padding: { left: 10, right: 50, top: 50, bottom: 0 } },
			scales: {
				x: { type: "logarithmic", min: 10, max: 10 ** 7.24, ...logTicks, afterFit: scale => { scale.height = 60; } },
				y: { type: "logarithmic", min: 10, max: 10 ** 7.29, ...logTicks, afterFit: scale => { scale.width = 60; } }
			}
		},
		plugins: [flowFrame({ text: titleText, x: titleAt[0] - box.left + 70, y: titleAt[1] - box.top + 50 }, percents)]
	});
};

drawFlowPlot({ left: 171, right: 539, top: 706, bottom: 1048 }, "Mimic-NC", [342, 675], ["1.8%", "5.9%", "84.1%", "8.2%"], mimicNcDense, mimicNcMid, mimicNcSparse);
drawFlowPlot({ left: 659, right: 1028, top: 702, bottom: 1045 }, "Mimics", [838, 675], ["2.5%", "9.1%", "73.6%", "14.8%"], mimicsDense, mimicsMid, mimicsSparse);
drawFlowPlot({ left: 1134, right: 1502, top: 701, bottom: 1044 }, "Anta-NC", [1312, 675], ["1.9%", "6.3%", "83.2%", "8.6%"], antaNcDense, antaNcMid, antaNcSparse);
drawFlowPlot({ left: 1622, right: 1989, top: 702, bottom: 1046 }, "Antagomir", [1826, 675], ["1.6%", "4.1%", "89.0%", "5.3%"], antagomirDense, antagomirMid, antagomirSparse);
drawFlowPlot({ left: 171, right: 539, top: 1215, bottom: 1558 }, "si-NC", [346, 1189], ["1.9%", "5.7%", "83.7%", "8.7%"], siNcDense, siNcMid, siNcSparse);
drawFlowPlot({ left: 661, right: 1029, top: 1216, bottom: 1558 }, "si-TSPAN17", [836, 1189], ["2.1%", "8.8%", "73.2%", "15.9%"], siTspanDense, siTspanMid, siTspanSparse);
drawFlowPlot({ left: 1134, right: 1503, top: 1215, bottom: 1558 }, "Anta+si", [1300, 1189], ["1.4%", "7.2%", "82.2%", "9.2%"], antaSiDense, antaSiMid, antaSiSparse);

const significance = {
	id: "significance",
	afterDraw(chart) {
		const { ctx, scales } = chart;
		ctx.save();
		ctx.lineWidth = 3;
		sigLines.forEach(([from, to, value, color]) => {
			const y = scales.y.getPixelForValue(value);
			ctx.strokeStyle = color;
			ctx.beginPath();
			ctx.moveTo(scales.x.getPixelForValue(from), y);
			ctx.lineTo(scales.x.getPixelForValue(to), y);
			ctx.stroke();
		});
		ctx.fillStyle = "#444";
		ctx.textBaseline = "middle";
		ctx.textAlign = "left";
		sigLabels.forEach(([cat, value]) => {
			const x = scales.x.getPixelForValue(cat) - 44;
			const y = scales.y.getPixelForValue(value);
			ctx.font = "italic 30px 'Liberation Sans'";
			ctx.fillText("p", x, y);
			const w = ctx.measureText("p").width;
			ctx.font = "30px 'Liberation Sans'";
			ctx.fillText("<0.05", x + w, y);
		});
		ctx.restore();
	}
};

new Chart(addCanvas(0, 1700, 1800, 866), {
	type: "bar",
	data: {
		labels: groups,
		datasets: [{
			data: apoptosisRate,
			errorBars: apoptosisErr,
			backgroundColor: barColors,
			borderColor: "#000",
			borderWidth: 3,
			barPercentage: 0.41,
			categoryPercentage: 1
		}]
	},
	options: {
		layout: { autoPadding: false, padding: { left: 237, right: 59, top: 115, bottom: 0 } },
		scales: {
			x: {
				afterFit: scale => { scale.height = 220; },
				grid: { offset: true, drawOnChartArea: false, color: "#000", tickColor: "#000", tickWidth: 4, tickLength: 11 },
				border: { color: "#000", width: 5 },
				ticks: { color: textGrey, font: { size: 33 }, padding: 18, minRotation: 90, maxRotation: 90, autoSkip: false }
			},
			y: {
				min: 0,
				max: 35,
				afterFit: scale => { scale.width = 126; },
				grid: { drawOnChartArea: false, color: "#000", tickColor: "#000", tickWidth: 4, tickLength: 10 },
				border: { color: "#000", width: 4 },
				ticks: { stepSize: 5, color: textGrey, font: { size: 32 }, padding: 10 },
				title: { display: true, text: "Rate of apoptosis (%)", color: textGrey, font: { size: 33 }, padding: 0 }
			}
		}
	},
	plugins: [errorBars, significance]
});
</script>
</body>
</html>
